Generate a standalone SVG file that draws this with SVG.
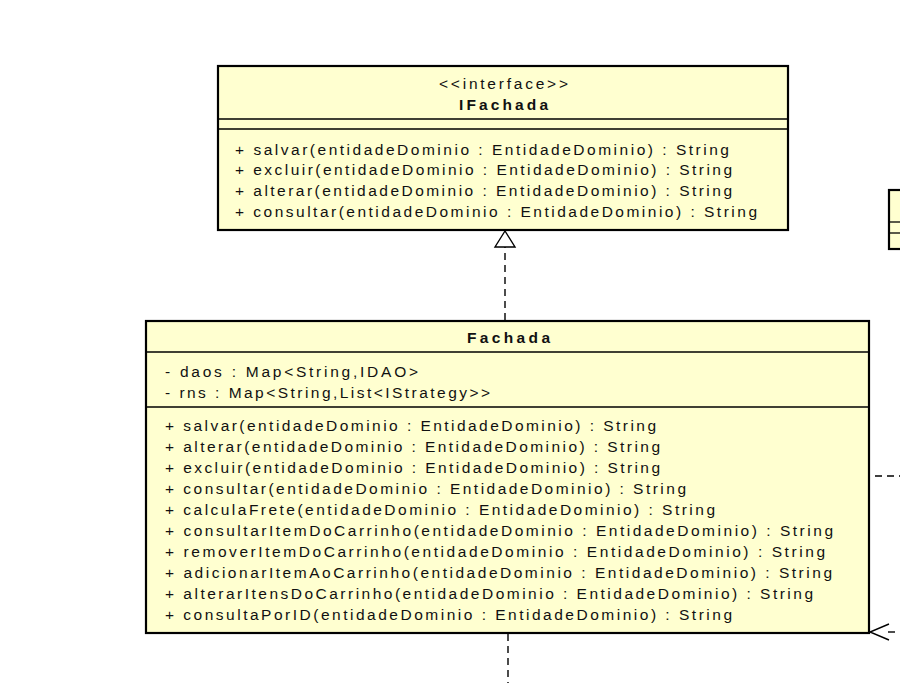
<svg xmlns="http://www.w3.org/2000/svg" width="900" height="683" viewBox="0 0 900 683">
<style>
.box{fill:#FFFFD0;stroke:#000;stroke-width:2.2}
.sep{stroke:#000;stroke-width:1.3}
.t{font-family:"Liberation Sans",Arial,sans-serif;font-size:15.5px;fill:#111}
.b{font-weight:bold}
.dash{fill:none;stroke:#000;stroke-width:1.4;stroke-dasharray:7,5}
</style>
<rect width="900" height="683" fill="#fff"/>
<g id="IFachada">
<rect class="box" x="218" y="66" width="570" height="164"/>
<line class="sep" x1="218" y1="119" x2="788" y2="119"/>
<line class="sep" x1="218" y1="129" x2="788" y2="129"/>
<text class="t" x="439" y="89" textLength="129" lengthAdjust="spacing">&lt;&lt;interface&gt;&gt;</text>
<text class="t b" x="459" y="110" textLength="89" lengthAdjust="spacing">IFachada</text>
<text class="t" x="235" y="155" textLength="494" lengthAdjust="spacing">+ salvar(entidadeDominio : EntidadeDominio) : String</text>
<text class="t" x="235" y="175" textLength="497" lengthAdjust="spacing">+ excluir(entidadeDominio : EntidadeDominio) : String</text>
<text class="t" x="235" y="196" textLength="497" lengthAdjust="spacing">+ alterar(entidadeDominio : EntidadeDominio) : String</text>
<text class="t" x="235" y="217" textLength="522" lengthAdjust="spacing">+ consultar(entidadeDominio : EntidadeDominio) : String</text>
</g>
<g id="Fachada">
<rect class="box" x="146" y="321" width="723" height="312"/>
<line class="sep" x1="146" y1="352" x2="869" y2="352"/>
<line class="sep" x1="146" y1="407" x2="869" y2="407"/>
<text class="t b" x="467" y="343" textLength="83" lengthAdjust="spacing">Fachada</text>
<text class="t" x="165" y="377" textLength="253" lengthAdjust="spacing">- daos : Map&lt;String,IDAO&gt;</text>
<text class="t" x="165" y="398" textLength="325" lengthAdjust="spacing">- rns : Map&lt;String,List&lt;IStrategy&gt;&gt;</text>
<text class="t" x="165" y="431" textLength="491" lengthAdjust="spacing">+ salvar(entidadeDominio : EntidadeDominio) : String</text>
<text class="t" x="165" y="452" textLength="495" lengthAdjust="spacing">+ alterar(entidadeDominio : EntidadeDominio) : String</text>
<text class="t" x="165" y="473" textLength="495" lengthAdjust="spacing">+ excluir(entidadeDominio : EntidadeDominio) : String</text>
<text class="t" x="165" y="494" textLength="521" lengthAdjust="spacing">+ consultar(entidadeDominio : EntidadeDominio) : String</text>
<text class="t" x="165" y="515" textLength="550" lengthAdjust="spacing">+ calculaFrete(entidadeDominio : EntidadeDominio) : String</text>
<text class="t" x="165" y="536" textLength="668" lengthAdjust="spacing">+ consultarItemDoCarrinho(entidadeDominio : EntidadeDominio) : String</text>
<text class="t" x="165" y="557" textLength="660" lengthAdjust="spacing">+ removerItemDoCarrinho(entidadeDominio : EntidadeDominio) : String</text>
<text class="t" x="165" y="578" textLength="667" lengthAdjust="spacing">+ adicionarItemAoCarrinho(entidadeDominio : EntidadeDominio) : String</text>
<text class="t" x="165" y="599" textLength="648" lengthAdjust="spacing">+ alterarItensDoCarrinho(entidadeDominio : EntidadeDominio) : String</text>
<text class="t" x="165" y="620" textLength="567" lengthAdjust="spacing">+ consultaPorID(entidadeDominio : EntidadeDominio) : String</text>
</g>
<g id="RightClass">
<rect class="box" x="889" y="190" width="20" height="59"/>
<line class="sep" x1="889" y1="222" x2="900" y2="222"/>
<line class="sep" x1="889" y1="233" x2="900" y2="233"/>
</g>
<g id="connectors">
<line class="dash" x1="505" y1="320" x2="505" y2="247"/>
<polygon points="505,231 495,247 515,247" fill="#fff" stroke="#000" stroke-width="1.4"/>
<line class="dash" x1="875" y1="476" x2="900" y2="476"/>
<line class="dash" x1="888" y1="632" x2="900" y2="632"/>
<polyline points="889,624 870,632 889,640" fill="none" stroke="#000" stroke-width="1.4"/>
<line class="dash" x1="508" y1="634" x2="508" y2="683"/>
</g>
</svg>
